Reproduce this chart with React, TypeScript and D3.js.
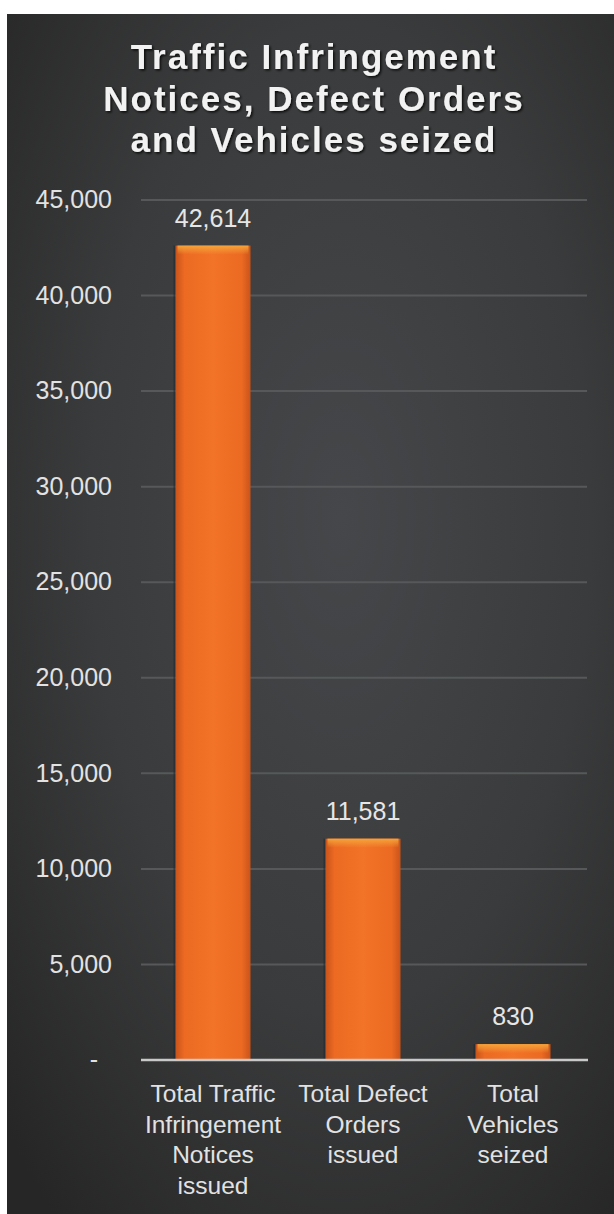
import React from "react";
import * as d3 from "d3";

const titleLines = ["Traffic Infringement", "Notices, Defect Orders", "and Vehicles seized"];
const categories = ["tin", "do", "vs"];
const categoryLabels = [
  ["Total Traffic", "Infringement", "Notices", "issued"],
  ["Total Defect", "Orders", "issued"],
  ["Total", "Vehicles", "seized"],
];
const values = [42614, 11581, 830];
const valueLabels = ["42,614", "11,581", "830"];
const tickValues = [0, 5000, 10000, 15000, 20000, 25000, 30000, 35000, 40000, 45000];
const tickLabels = ["-", "5,000", "10,000", "15,000", "20,000", "25,000", "30,000", "35,000", "40,000", "45,000"];

const W = 614;
const H = 1214;
const FONT = "'Liberation Sans', Arial, sans-serif";

export default function App() {
  const y = d3.scaleLinear().domain([0, 45000]).range([1060, 200]);
  const x = d3.scaleBand<string>().domain(categories).range([138, 588]).paddingInner(0.5).paddingOuter(0.25);
  const bw = x.bandwidth();

  return (
    <div style={{ position: "absolute", left: 0, top: 0 }}>
      <svg width={W} height={H} style={{ display: "block" }}>
        <defs>
          <radialGradient id="bg" cx="0.55" cy="0.42" r="0.75" fx="0.55" fy="0.42">
            <stop offset="0" stopColor="#45474a" />
            <stop offset="0.55" stopColor="#3a3b3c" />
            <stop offset="1" stopColor="#262626" />
          </radialGradient>
          <linearGradient id="barH" x1="0" x2="1" y1="0" y2="0">
            <stop offset="0" stopColor="#c9541a" />
            <stop offset="0.12" stopColor="#ec6a22" />
            <stop offset="0.5" stopColor="#f27428" />
            <stop offset="0.88" stopColor="#ec6a22" />
            <stop offset="1" stopColor="#c9541a" />
          </linearGradient>
          <linearGradient id="barTop" x1="0" x2="0" y1="0" y2="1">
            <stop offset="0" stopColor="#f6a43a" stopOpacity="1" />
            <stop offset="1" stopColor="#f6a43a" stopOpacity="0" />
          </linearGradient>
          <filter id="tshadow" x="-10%" y="-20%" width="120%" height="140%">
            <feDropShadow dx="1.5" dy="1.5" stdDeviation="1" floodColor="#000" floodOpacity="0.8" />
          </filter>
        </defs>
        <rect x={0} y={0} width={W} height={H} fill="#ffffff" />
        <rect x={7} y={14} width={W - 7} height={H - 14} fill="url(#bg)" />

        {/* Title */}
        <g filter="url(#tshadow)">
          {titleLines.map((t, i) => (
            <text
              key={t}
              x={314}
              y={69 + i * 41.5}
              textAnchor="middle"
              fontFamily={FONT}
              fontWeight="bold"
              fontSize={35}
              letterSpacing={2}
              fill="#f2f2f2"
            >
              {t}
            </text>
          ))}
        </g>

        {/* Gridlines */}
        {tickValues.slice(1).map((v) => (
          <line key={v} x1={141} x2={587} y1={y(v)} y2={y(v)} stroke="#56585a" strokeWidth={2} />
        ))}

        {/* Y tick labels */}
        {tickValues.map((v, i) => (
          <text
            key={v}
            x={v === 0 ? 98 : 112}
            y={y(v)}
            dy="0.33em"
            textAnchor="end"
            fontFamily={FONT}
            fontSize={25}
            fill="#e2e2e2"
          >
            {tickLabels[i]}
          </text>
        ))}

        {/* Bars */}
        {categories.map((c, i) => {
          const x0 = x(c) as number;
          const top = y(values[i]);
          const h = y(0) - top;
          return (
            <g key={c}>
              <rect x={x0 - 2} y={top} width={2} height={h} fill="#1f2a33" opacity={0.6} />
              <rect x={x0} y={top} width={bw} height={h} fill="url(#barH)" />
              <rect x={x0 + 2} y={top} width={bw - 4} height={Math.min(9, h)} fill="url(#barTop)" />
              <text
                x={x0 + bw / 2}
                y={top - 19}
                textAnchor="middle"
                fontFamily={FONT}
                fontSize={25}
                fill="#e6e6e6"
              >
                {valueLabels[i]}
              </text>
            </g>
          );
        })}

        {/* Baseline */}
        <line x1={141} x2={588} y1={y(0)} y2={y(0)} stroke="#c9c9c9" strokeWidth={2.5} />

        {/* Category labels */}
        {categories.map((c, i) => (
          <text
            key={c}
            textAnchor="middle"
            fontFamily={FONT}
            fontSize={24.5}
            fill="#e2e2e2"
          >
            {categoryLabels[i].map((l, j) => (
              <tspan key={j} x={(x(c) as number) + bw / 2} y={1102 + j * 30.5}>
                {l}
              </tspan>
            ))}
          </text>
        ))}
      </svg>
    </div>
  );
}
